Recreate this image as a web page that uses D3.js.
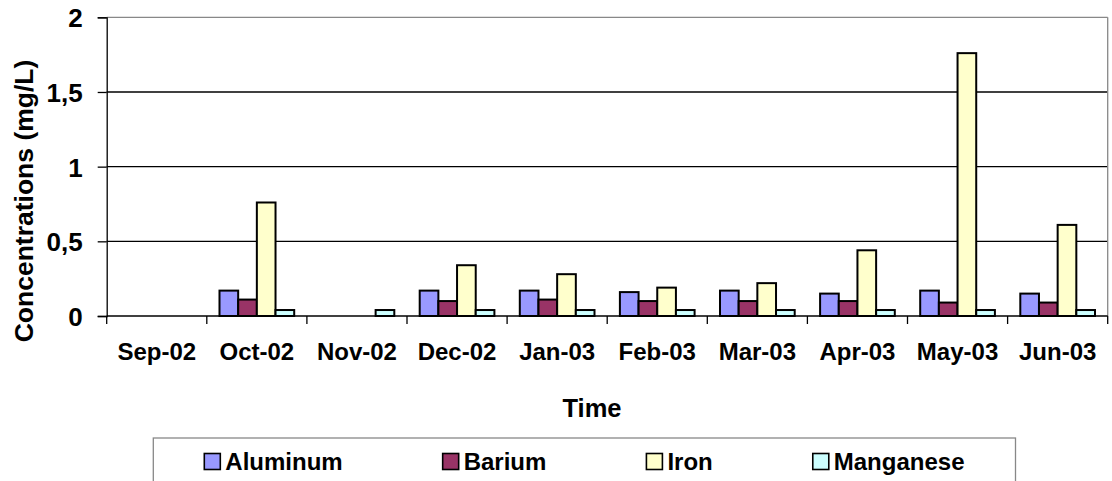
<!DOCTYPE html>
<html>
<head>
<meta charset="utf-8">
<script src="https://cdn.jsdelivr.net/npm/d3@7"></script>
<style>
    body { margin: 0; background: #fff; }
    text { font-family: "Liberation Sans", Arial, sans-serif; font-weight: bold; }
</style>
</head>
<body>
<div id="chart"></div>
<script>
// Data (null = no bar)
const months = ["Sep-02", "Oct-02", "Nov-02", "Dec-02", "Jan-03", "Feb-03", "Mar-03", "Apr-03", "May-03", "Jun-03"];
const seriesNames = ["Aluminum", "Barium", "Iron", "Manganese"];
const aluminum = [null, 0.17, null, 0.17, 0.17, 0.16, 0.17, 0.15, 0.17, 0.15];
const barium = [null, 0.11, null, 0.10, 0.11, 0.10, 0.10, 0.10, 0.09, 0.09];
const iron = [null, 0.76, null, 0.34, 0.28, 0.19, 0.22, 0.44, 1.76, 0.61];
const manganese = [null, 0.04, 0.04, 0.04, 0.04, 0.04, 0.04, 0.04, 0.04, 0.04];
const yTicks = [0, 0.5, 1, 1.5, 2];
const seriesColors = ["#9999FF", "#993366", "#FFFFCC", "#CCFFFF"];

// Layout
const width = 1112,
        height = 481,
        plotLeft = 106.7,
        plotRight = 1107.7,
        plotTop = 17.3,
        plotBottom = 316,
        fontSize = 24;

var svg = d3.select("#chart").append("svg")
    .attr("width", width)
    .attr("height", height);

// Scales
var x = d3.scaleBand().domain(months).range([plotLeft, plotRight]).padding(0);
var xSub = d3.scaleBand().domain(seriesNames).range([0, x.bandwidth()]).paddingInner(0).paddingOuter(0.68);
var y = d3.scaleLinear().domain([0, 2]).range([plotBottom, plotTop]);
var color = d3.scaleOrdinal().domain(seriesNames).range(seriesColors);

/**
 * Builds one row per month with each series value
 * @returns {array}
 */
function buildRows() {
    var cols = [aluminum, barium, iron, manganese];
    return months.map(function (m, i) {
        var row = { month: m, values: [] };
        seriesNames.forEach(function (s, j) {
            row.values.push({ key: s, value: cols[j][i] });
        });
        return row;
    });
}

// Gridlines (black) and top border (grey)
svg.append("g")
    .selectAll("line")
    .data(yTicks.filter(function (t) { return t > 0; }))
    .enter().append("line")
    .attr("x1", plotLeft)
    .attr("x2", plotRight)
    .attr("y1", function (d) { return y(d); })
    .attr("y2", function (d) { return y(d); })
    .attr("stroke", function (d) { return d === 2 ? "#888" : "#000"; })
    .attr("stroke-width", 1.3);

// Right border
svg.append("line")
    .attr("x1", plotRight).attr("x2", plotRight)
    .attr("y1", plotTop).attr("y2", plotBottom)
    .attr("stroke", "#888").attr("stroke-width", 1.3);

// Bars
var groups = svg.append("g")
    .selectAll("g")
    .data(buildRows())
    .enter().append("g")
    .attr("transform", function (d) { return "translate(" + x(d.month) + ",0)"; });

groups.selectAll("rect")
    .data(function (d) { return d.values.filter(function (v) { return v.value !== null; }); })
    .enter().append("rect")
    .attr("x", function (d) { return xSub(d.key); })
    .attr("width", xSub.bandwidth())
    .attr("y", function (d) { return y(d.value); })
    .attr("height", function (d) { return y(0) - y(d.value); })
    .attr("fill", function (d) { return color(d.key); })
    .attr("stroke", "#000")
    .attr("stroke-width", 2);

// Y axis
var yAxis = svg.append("g")
    .attr("transform", "translate(" + plotLeft + ",0)")
    .call(d3.axisLeft(y).tickValues(yTicks).tickSize(9).tickPadding(15)
        .tickFormat(function (d) { return String(d).replace(".", ","); }));
yAxis.select(".domain").attr("stroke", "#000").attr("stroke-width", 1.3);
yAxis.selectAll(".tick line").attr("stroke", "#000").attr("stroke-width", 1.3);
yAxis.selectAll("text")
    .attr("font-size", 26)
    .attr("fill", "#000")
    .attr("dy", "0.36em")
    .style("font-family", "'Liberation Sans', Arial, sans-serif")
    .style("font-weight", "bold");

// X axis: ticks at category boundaries
var xAxis = svg.append("g")
    .attr("transform", "translate(0," + plotBottom + ")");
xAxis.append("line")
    .attr("x1", plotLeft).attr("x2", plotRight)
    .attr("stroke", "#000").attr("stroke-width", 1.3);
xAxis.selectAll(".tk")
    .data(months.concat(["end"]))
    .enter().append("line")
    .attr("class", "tk")
    .attr("x1", function (d) { return d === "end" ? plotRight : x(d); })
    .attr("x2", function (d) { return d === "end" ? plotRight : x(d); })
    .attr("y1", 0).attr("y2", 8)
    .attr("stroke", "#000").attr("stroke-width", 1.3);
xAxis.selectAll(".lbl")
    .data(months)
    .enter().append("text")
    .attr("class", "lbl")
    .attr("x", function (d) { return x(d) + x.bandwidth() / 2; })
    .attr("y", 44)
    .attr("text-anchor", "middle")
    .attr("font-size", fontSize)
    .text(function (d) { return d; });

// Axis titles
svg.append("text")
    .attr("x", 592)
    .attr("y", 417)
    .attr("text-anchor", "middle")
    .attr("font-size", 25.5)
    .text("Time");

svg.append("text")
    .attr("transform", "translate(33,201) rotate(-90)")
    .attr("text-anchor", "middle")
    .attr("font-size", 26.5)
    .text("Concentrations (mg/L)");

// Legend box (bottom is clipped by the image edge)
const legLeft = 153.3, legRight = 1015.5, legTop = 438, legMargin = 51, swatch = 16;
svg.append("rect")
    .attr("x", legLeft).attr("y", legTop)
    .attr("width", legRight - legLeft).attr("height", 60)
    .attr("fill", "#fff").attr("stroke", "#888").attr("stroke-width", 1.3);

var items = svg.append("g")
    .selectAll("g")
    .data(seriesNames)
    .enter().append("g");

items.append("rect")
    .attr("width", swatch).attr("height", swatch)
    .attr("y", legTop + 15.5)
    .attr("fill", function (d) { return color(d); })
    .attr("stroke", "#000").attr("stroke-width", 1.6);

items.append("text")
    .attr("x", swatch + 5)
    .attr("y", legTop + 31.5)
    .attr("font-size", fontSize)
    .text(function (d) { return d; });

// Spread the legend entries with equal gaps
var widths = [];
items.each(function () { widths.push(swatch + 5 + d3.select(this).select("text").node().getComputedTextLength()); });
var gap = (legRight - legLeft - 2 * legMargin - d3.sum(widths)) / (seriesNames.length - 1);
var pos = legLeft + legMargin;
items.attr("transform", function (d, i) {
    var t = "translate(" + pos + ",0)";
    pos += widths[i] + gap;
    return t;
});
</script>
</body>
</html>
